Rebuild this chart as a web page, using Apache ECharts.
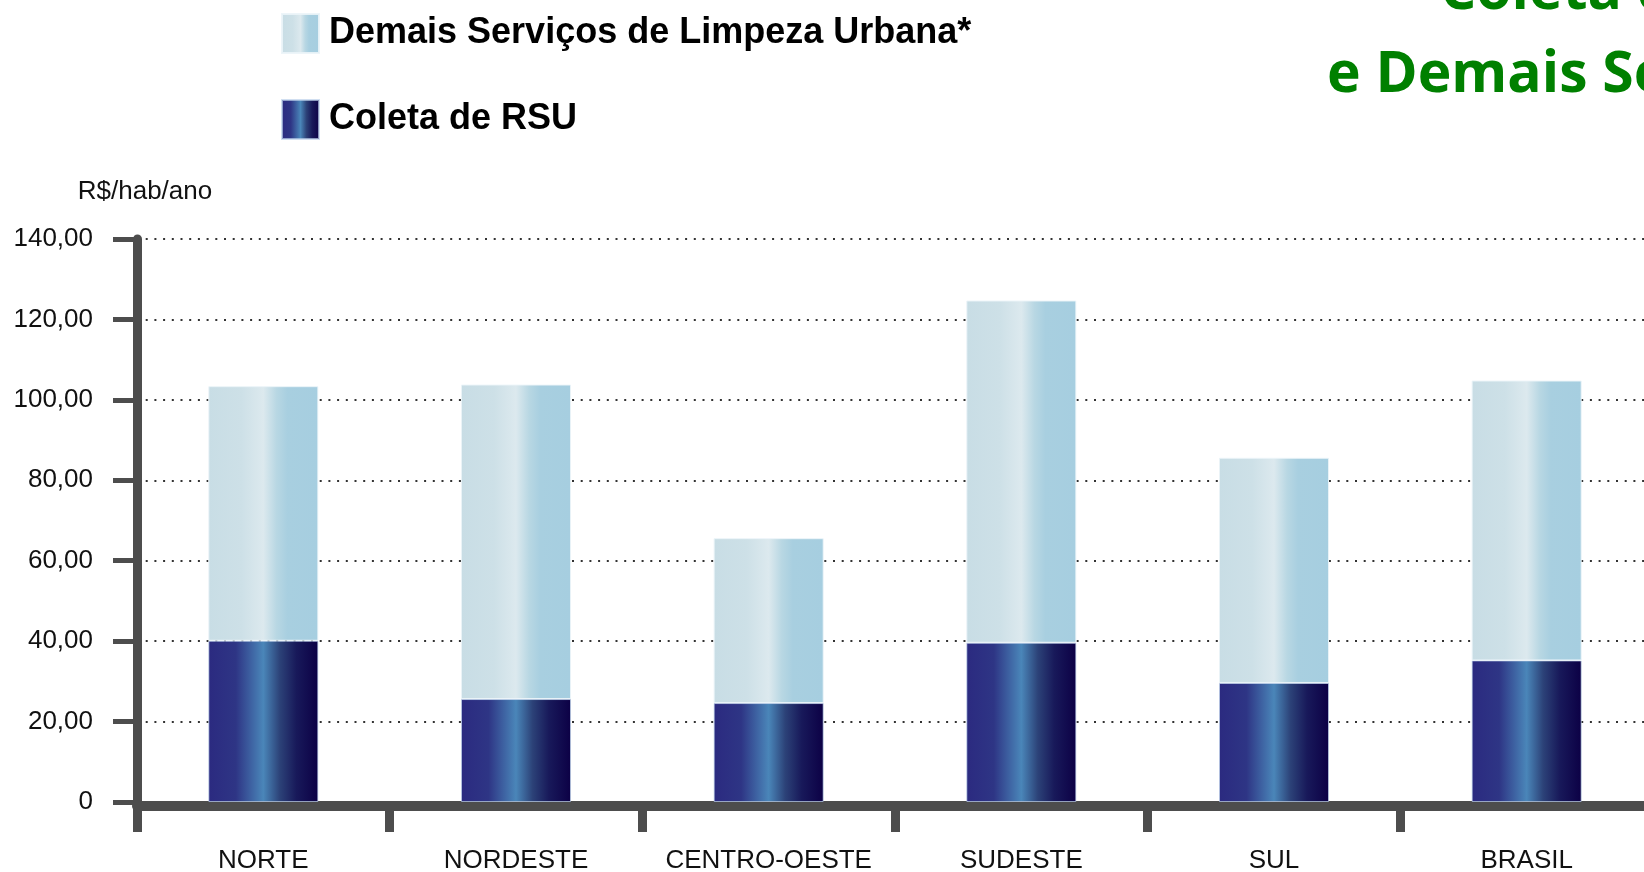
<!DOCTYPE html>
<html>
<head>
<meta charset="utf-8">
<title>Coleta de RSU e Demais Serviços</title>
<script src="https://cdn.jsdelivr.net/npm/echarts@6/dist/echarts.min.js"></script>
<style>
	html, body { margin: 0; padding: 0; background: #fff; }
	#chart { width: 1644px; height: 872px; }
</style>
</head>
<body>
<div id="chart"></div>
<script>
// regiões (eixo x)
const regioes = ['NORTE', 'NORDESTE', 'CENTRO-OESTE', 'SUDESTE', 'SUL', 'BRASIL'];
// R$/hab/ano - coleta de RSU (parte de baixo)
const coletaRSU = [40.1, 25.6, 24.6, 39.6, 29.6, 35.2];
// R$/hab/ano - demais serviços (parte de cima, empilhada)
const demaisServicos = [63.3, 78.2, 41.0, 85.1, 56.0, 69.6];
// rótulos do eixo y
const yTickLabels = ['0', '20,00', '40,00', '60,00', '80,00', '100,00', '120,00', '140,00'];

const nomeDemais = 'Demais Serviços de Limpeza Urbana*';
const nomeColeta = 'Coleta de RSU';
const fonte = '"Liberation Sans", Arial, sans-serif';
const axisCor = '#4d4d4d';

// gradiente horizontal das barras escuras
const gradColeta = new echarts.graphic.LinearGradient(0, 0, 1, 0, [
	{ offset: 0, color: '#2b2a80' },
	{ offset: 0.25, color: '#2e3585' },
	{ offset: 0.5, color: '#4a86b9' },
	{ offset: 0.65, color: '#2c4278' },
	{ offset: 0.8, color: '#18195a' },
	{ offset: 1, color: '#0c0045' }
]);
// gradiente das barras claras
const gradDemais = new echarts.graphic.LinearGradient(0, 0, 1, 0, [
	{ offset: 0, color: '#c8dde5' },
	{ offset: 0.3, color: '#cde0e7' },
	{ offset: 0.5, color: '#dce9ee' },
	{ offset: 0.62, color: '#b8d7e3' },
	{ offset: 0.72, color: '#a8cfe0' },
	{ offset: 1, color: '#a6cee0' }
]);

const myChart = echarts.init(document.getElementById('chart'));

const option = {
	animation: false,
	textStyle: { fontFamily: fonte },
	graphic: [
		{
			type: 'text',
			left: 1440,
			top: -36,
			style: {
				text: 'Coleta de RSU',
				fill: '#008000',
				font: 'bold 57px "Open Sans", sans-serif'
			}
		},
		{
			type: 'text',
			left: 1327,
			top: 47,
			style: {
				text: 'e Demais Serviços',
				fill: '#008000',
				font: 'bold 57px "Open Sans", sans-serif'
			}
		}
	],
	legend: {
		orient: 'vertical',
		left: 281,
		top: 13,
		padding: 0,
		itemGap: 45,
		itemWidth: 37,
		itemHeight: 39,
		icon: 'rect',
		data: [nomeDemais, nomeColeta],
		textStyle: {
			fontSize: 36,
			fontWeight: 'bold',
			color: '#000',
			fontFamily: fonte,
			padding: [0, 0, 0, 5]
		}
	},
	grid: {
		left: 137,
		top: 239,
		width: 1516,
		height: 563,
		outerBoundsMode: 'none'
	},
	xAxis: {
		type: 'category',
		data: regioes,
		offset: 4,
		axisLine: { onZero: false, lineStyle: { color: axisCor, width: 10 } },
		axisTick: {
			show: true,
			interval: 0,
			length: 26,
			lineStyle: { color: axisCor, width: 9 }
		},
		axisLabel: {
			interval: 0,
			margin: 42,
			fontSize: 26,
			color: '#111',
			fontFamily: fonte
		},
		splitLine: { show: false }
	},
	yAxis: {
		type: 'value',
		min: 0,
		max: 140,
		interval: 20,
		name: 'R$/hab/ano',
		nameLocation: 'end',
		nameGap: 34,
		nameTextStyle: {
			fontSize: 26,
			color: '#111',
			fontFamily: fonte,
			padding: [0, 0, 0, 16]
		},
		axisLine: { show: true, lineStyle: { color: axisCor, width: 9 } },
		axisTick: {
			show: true,
			length: 24,
			lineStyle: { color: axisCor, width: 5 }
		},
		axisLabel: {
			margin: 44,
			fontSize: 26,
			color: '#111',
			fontFamily: fonte,
			formatter: function (v) {
				return yTickLabels[Math.round(v / 20)];
			}
		},
		splitLine: {
			show: true,
			lineStyle: { color: '#333', width: 2, type: [2, 6.7] }
		}
	},
	series: [
		{
			name: nomeColeta,
			type: 'bar',
			stack: 'total',
			barWidth: 110,
			data: coletaRSU,
			itemStyle: {
				color: gradColeta,
				borderColor: 'rgba(190,210,235,0.7)',
				borderWidth: 1
			}
		},
		{
			name: nomeDemais,
			type: 'bar',
			stack: 'total',
			barWidth: 110,
			data: demaisServicos,
			itemStyle: {
				color: gradDemais,
				borderColor: 'rgba(235,244,248,0.9)',
				borderWidth: 1
			}
		}
	]
};

myChart.setOption(option);
</script>
</body>
</html>
